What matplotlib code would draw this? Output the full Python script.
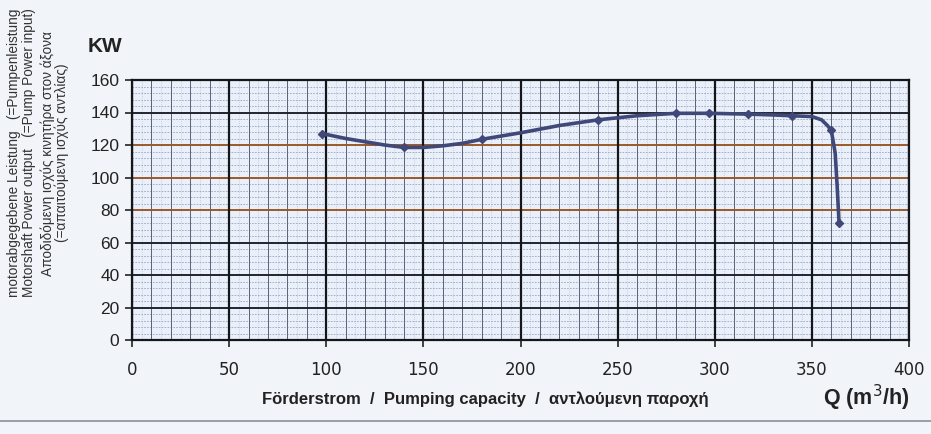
import numpy as np
import matplotlib.pyplot as plt

# pump power curve
flow = [98, 110, 120, 130, 140, 150, 160, 170, 180, 200, 220, 240, 260, 280, 297, 317, 330, 340, 350, 355, 358, 360, 362, 363, 364]
power = [127, 124, 122, 120, 118.5, 118.5, 119.5, 121, 123.5, 127.5, 132, 135.5, 138, 139.5, 139.5, 139, 138.5, 138, 137.5, 135.5, 132, 129, 115, 95, 72]
# measured points (marked on the curve)
flow_pts = [98, 140, 180, 240, 280, 297, 317, 340, 360, 364]
power_pts = [127, 118.5, 123.5, 135.5, 139.5, 139.5, 139, 138, 129, 72]

xticks = [0, 50, 100, 150, 200, 250, 300, 350, 400]
yticks = [0, 20, 40, 60, 80, 100, 120, 140, 160]

ylabel_lines = ["motorabgegebene Leistung   (=Pumpenleistung",
                "Motorshaft Power output   (=Pump Power input)",
                "Αποδιδόμενη ισχύς κινητήρα στον άξονα",
                "(=απαιτούμενη ισχύς αντλίας)"]

W, H = 931, 434
fig = plt.figure(figsize=(W / 100, H / 100), dpi=100, facecolor='#f1f4f9')
ax = fig.add_axes([132 / W, 1 - 340 / H, (909 - 132) / W, (340 - 80) / H])
ax.set_facecolor('#eaf0f9')

ax.set_xlim(0, 400)
ax.set_ylim(0, 160)

# graph paper grid
for x in np.arange(0, 401, 5):
    ax.axvline(x, color='#a9b3cc', lw=0.5, ls=(0, (1, 2)), zorder=1)
for y in np.arange(0, 161, 4):
    ax.axhline(y, color='#9aa4c0', lw=0.6, ls=(0, (2, 1.5)), zorder=1)
for x in np.arange(0, 401, 10):
    ax.axvline(x, color='#5c6178', lw=0.7, zorder=2)
for y in np.arange(0, 161, 20):
    c = '#9a5a2a' if y in (80, 100, 120) else '#22242e'
    ax.axhline(y, color=c, lw=1.4, zorder=2)
for x in np.arange(0, 401, 50):
    ax.axvline(x, color='#15161c', lw=1.6, zorder=2)

ax.plot(flow, power, '-', color='#3f4878', lw=2.6, zorder=4, solid_capstyle='round')
ax.plot(flow_pts, power_pts, 'D', color='#3f4878', ms=4.5, zorder=5)

for s in ax.spines.values():
    s.set_color('#15161c')
    s.set_linewidth(1.6)

ax.set_xticks(xticks)
ax.set_yticks(yticks)
ax.tick_params(axis='x', length=5, width=1.2, pad=10, labelsize=12, colors='#222222')
ax.tick_params(axis='y', length=5, width=1.2, pad=4, labelsize=12.5, colors='#222222')
for lab in ax.get_xticklabels():
    lab.set_family(['Liberation Sans Narrow', 'DejaVu Sans'])
for lab in ax.get_yticklabels():
    lab.set_family(['Liberation Sans', 'DejaVu Sans'])

fig.text(88 / W, 1 - 47 / H, 'KW', fontsize=15, fontweight='bold', family='Liberation Sans',
         va='center', ha='left', color='#222222')

xs = [14, 29, 48, 62]
for xp, txt in zip(xs, ylabel_lines):
    fig.text(xp / W, 1 - 153 / H, txt, rotation=90, fontsize=9.8, family='Liberation Sans',
             va='center', ha='center', color='#333333')

fig.text(485 / W, 1 - 399 / H, 'Förderstrom  /  Pumping capacity  /  αντλούμενη παροχή',
         fontsize=12, fontweight='bold', family=['Liberation Sans Narrow', 'Liberation Sans'],
         ha='center', va='center', color='#222222')
fig.text(909 / W, 1 - 398 / H, 'Q (m$^3$/h)', fontsize=15.5, fontweight='bold',
         family='Liberation Sans', ha='right', va='center', color='#222222')

fig.add_artist(plt.Line2D([0, 1], [1 - 421 / H, 1 - 421 / H], color='#8a8f9a', lw=1.2))

fig.savefig('out.png', dpi=100, facecolor=fig.get_facecolor())
